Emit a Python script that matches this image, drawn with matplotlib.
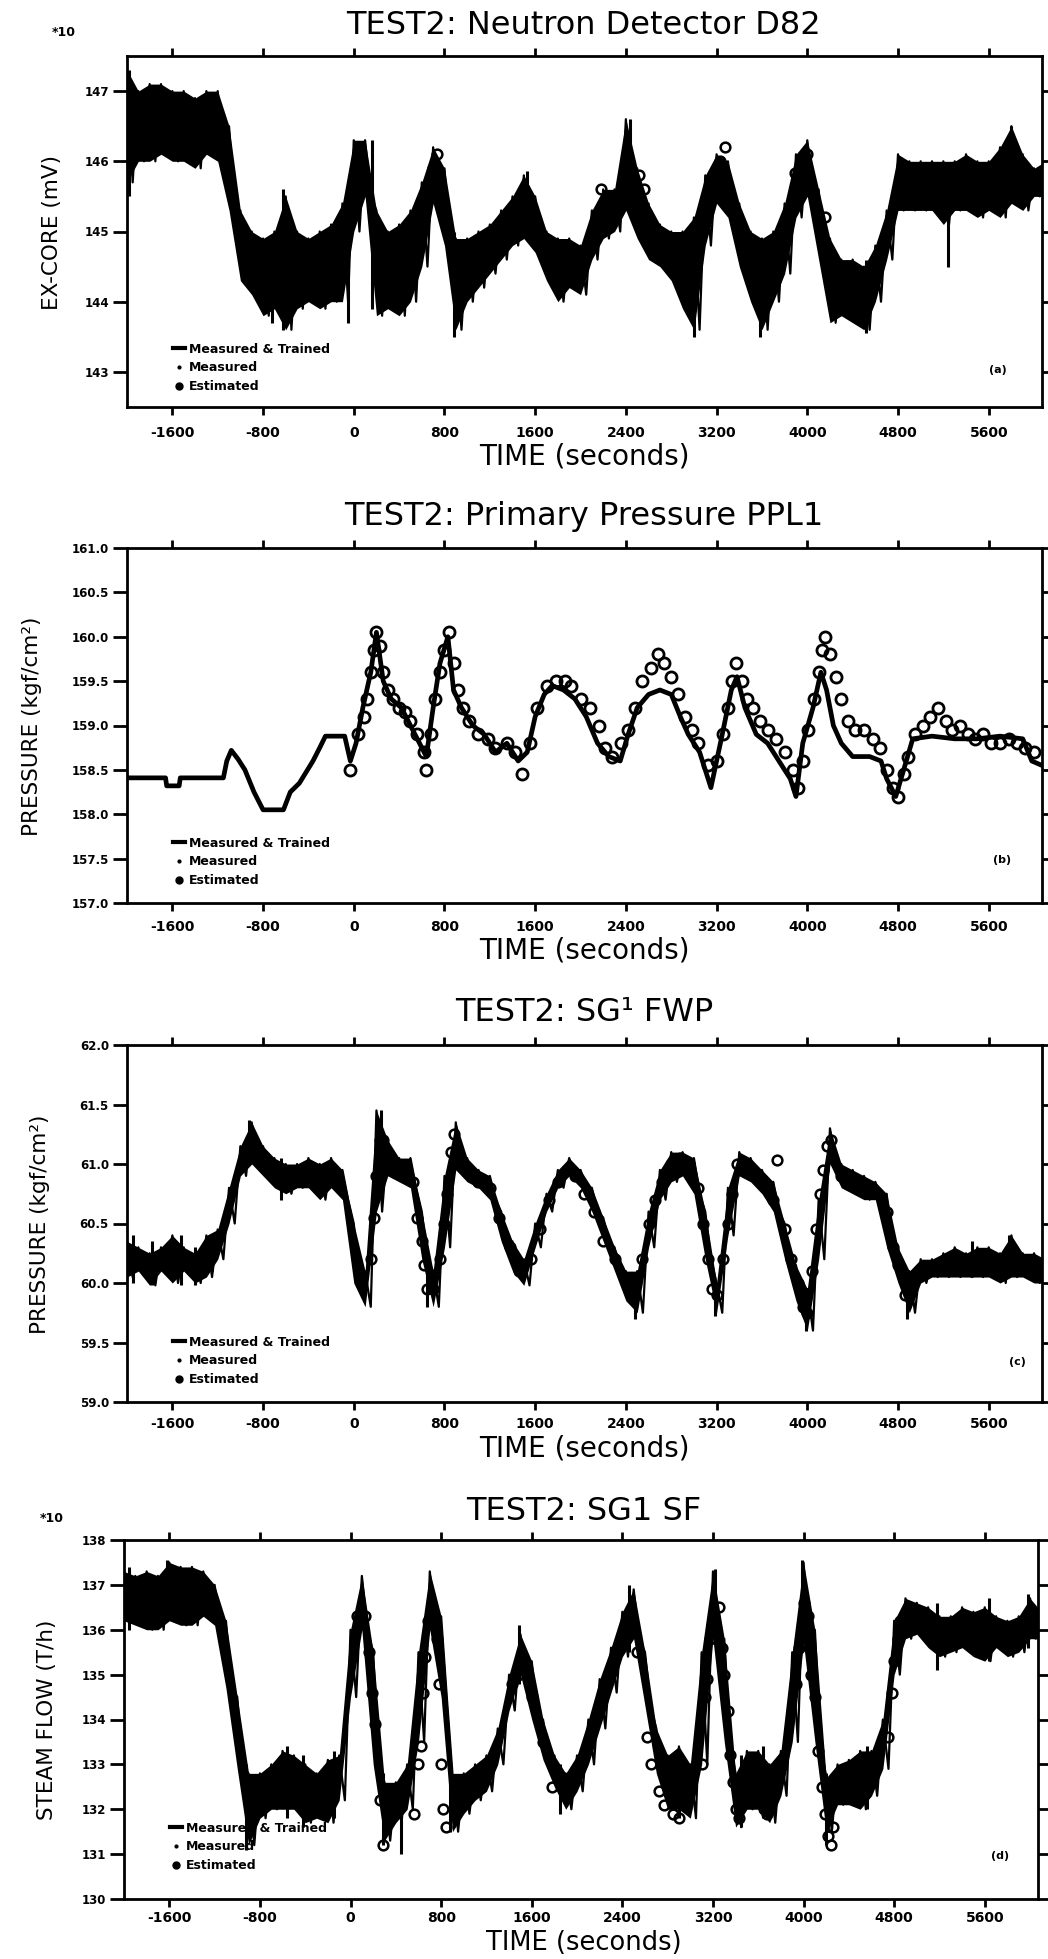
import numpy as np
import matplotlib
matplotlib.use('Agg')
import matplotlib.pyplot as plt
from matplotlib.lines import Line2D

plt.rcParams['font.family'] = ['DejaVu Sans']

# ---------------- data ----------------
XTICKS = [-1600, -800, 0, 800, 1600, 2400, 3200, 4000, 4800, 5600]
XLIM = (-2000, 6070)

# sample grid used for the noisy envelopes (seconds)
T_GRID = np.arange(-2000, 6101, 100)

# (a) neutron detector D82, lower / upper edge of the noisy band
LO_A = [145.7, 146.0, 146.0, 146.1, 146.0, 146.0, 145.9, 146.1, 146.0, 145.3,
        144.3, 144.1, 143.8, 143.9, 143.6, 143.9, 144.0, 143.9, 144.0, 144.0,
        145.0, 145.5, 143.8, 143.9, 143.8, 144.0, 144.5, 145.4, 144.8, 143.6,
        144.0, 144.2, 144.4, 144.6, 144.8, 144.9, 144.7, 144.3, 144.0, 144.2,
        144.1, 144.6, 144.9, 145.0, 145.3, 144.9, 144.6, 144.5, 144.3, 143.9,
        143.6, 144.8, 145.4, 145.2, 144.5, 144.0, 143.6, 144.0, 144.4, 145.2,
        145.5, 144.6, 143.7, 143.8, 143.7, 143.6, 144.0, 144.6, 145.3, 145.3,
        145.3, 145.3, 145.1, 145.3, 145.3, 145.2, 145.3, 145.2, 145.4, 145.3,
        145.5, 145.5]
HI_A = [147.3, 147.0, 147.1, 147.1, 147.0, 147.0, 146.9, 147.0, 147.0, 146.5,
        145.3, 145.0, 144.9, 145.0, 145.5, 145.0, 144.9, 145.0, 145.1, 145.4,
        146.3, 146.3, 145.3, 145.0, 145.1, 145.3, 145.7, 146.2, 145.9, 144.9,
        144.9, 145.0, 145.1, 145.3, 145.5, 145.8, 145.5, 145.0, 144.9, 144.9,
        144.8, 145.3, 145.6, 145.6, 146.6, 145.9, 145.4, 145.1, 145.0, 145.0,
        145.2, 145.8, 146.1, 146.0, 145.4, 145.0, 144.9, 145.0, 145.4, 146.1,
        146.3, 145.6, 144.9, 144.6, 144.6, 144.5, 144.8, 145.3, 146.1, 146.0,
        146.0, 146.0, 146.0, 146.0, 146.1, 146.0, 146.0, 146.2, 146.5, 146.1,
        145.9, 146.0]
SPK_A_T = [-1980, -720, -620, -50, 160, 880, 1530, 2440, 3000, 3580, 4520, 5240, 5800]
SPK_A_LO = [145.5, 143.7, 143.6, 143.7, 143.9, 143.5, 145.0, 145.5, 143.5, 143.5, 143.55, 144.5, 145.6]
SPK_A_HI = [147.3, 144.9, 145.6, 144.8, 146.3, 145.0, 145.86, 146.6, 144.6, 144.6, 144.6, 145.6, 146.5]
EST_A_T = [30, 700, 730, 1270, 1370, 2180, 2250, 2520, 2560, 3230, 3270, 3770, 3890, 4000, 4160, 4830]
EST_A_V = [145.9, 145.9, 146.1, 145.0, 145.2, 145.6, 145.5, 145.8, 145.6, 146.0, 146.2, 144.7,
           145.83, 146.1, 145.2, 145.4]

# (b) primary pressure PPL1, measured trace and estimates
MEAS_B_T = [-2000, -1660, -1650, -1540, -1530, -1150, -1120, -1080, -1020, -960, -880, -800,
            -620, -560, -480, -360, -300, -250, -80, -30, 20, 80, 150, 200, 260, 330, 420,
            500, 580, 640, 700, 760, 830, 880, 950, 1050, 1150, 1250, 1350, 1450, 1530,
            1600, 1680, 1750, 1850, 1950, 2050, 2150, 2250, 2350, 2420, 2500, 2600, 2700,
            2800, 2880, 2950, 3050, 3150, 3250, 3330, 3380, 3450, 3550, 3650, 3750, 3850,
            3900, 3960, 4050, 4120, 4170, 4230, 4300, 4400, 4550, 4650, 4700, 4780, 4850,
            4930, 5100, 5300, 5500, 5700, 5900, 5980, 6070]
MEAS_B_V = [158.41, 158.41, 158.32, 158.32, 158.41, 158.41, 158.6, 158.72, 158.62, 158.5,
            158.25, 158.05, 158.05, 158.25, 158.35, 158.6, 158.75, 158.88, 158.88, 158.6,
            158.8, 159.2, 159.6, 160.05, 159.5, 159.3, 159.2, 159.0, 158.8, 158.65, 159.2,
            159.7, 160.0, 159.4, 159.2, 159.0, 158.9, 158.7, 158.8, 158.6, 158.7, 159.1,
            159.35, 159.45, 159.4, 159.3, 159.1, 158.8, 158.65, 158.6, 158.9, 159.2, 159.35,
            159.4, 159.35, 159.1, 158.9, 158.7, 158.3, 158.9, 159.4, 159.55, 159.2, 158.9,
            158.8, 158.6, 158.4, 158.2, 158.8, 159.2, 159.6, 159.4, 159.0, 158.8, 158.65,
            158.65, 158.6, 158.4, 158.2, 158.5, 158.85, 158.88, 158.85, 158.85, 158.88,
            158.85, 158.6, 158.55]
EST_B_T = [-30, 40, 90, 120, 150, 180, 200, 230, 260, 300, 350, 400, 450, 500, 560, 620, 640,
           680, 720, 760, 800, 840, 880, 920, 960, 1020, 1100, 1180, 1250, 1350, 1420, 1480,
           1550, 1620, 1700, 1780, 1860, 1920, 2000, 2080, 2160, 2220, 2280, 2360, 2420, 2480,
           2540, 2620, 2680, 2740, 2800, 2860, 2920, 2980, 3040, 3120, 3200, 3260, 3300, 3340,
           3370, 3420, 3470, 3520, 3580, 3650, 3720, 3800, 3870, 3920, 3960, 4010, 4060, 4100,
           4130, 4160, 4200, 4250, 4300, 4360, 4420, 4500, 4580, 4640, 4700, 4760, 4800, 4850,
           4890, 4950, 5020, 5080, 5150, 5220, 5280, 5350, 5420, 5480, 5550, 5620, 5700, 5780,
           5850, 5920, 6000]
EST_B_V = [158.5, 158.9, 159.1, 159.3, 159.6, 159.85, 160.05, 159.9, 159.6, 159.4, 159.3, 159.2,
           159.15, 159.05, 158.9, 158.7, 158.5, 158.9, 159.3, 159.6, 159.85, 160.05, 159.7, 159.4,
           159.2, 159.05, 158.9, 158.85, 158.75, 158.8, 158.7, 158.45, 158.8, 159.2, 159.45,
           159.5, 159.5, 159.45, 159.3, 159.2, 159.0, 158.75, 158.65, 158.8, 158.95, 159.2, 159.5,
           159.65, 159.8, 159.7, 159.55, 159.35, 159.1, 158.95, 158.8, 158.55, 158.6, 158.9,
           159.2, 159.5, 159.7, 159.5, 159.3, 159.2, 159.05, 158.95, 158.85, 158.7, 158.5, 158.3,
           158.6, 158.95, 159.3, 159.6, 159.85, 160.0, 159.8, 159.55, 159.3, 159.05, 158.95,
           158.95, 158.85, 158.75, 158.5, 158.3, 158.2, 158.45, 158.65, 158.9, 159.0, 159.1,
           159.2, 159.05, 158.95, 159.0, 158.9, 158.85, 158.9, 158.8, 158.8, 158.85, 158.8,
           158.75, 158.7]

# (c) SG1 feedwater pressure
LO_C = [60.05, 60.1, 59.98, 60.1, 60.0, 60.1, 60.0, 60.05, 60.2, 60.5,
        60.9, 61.0, 60.9, 60.8, 60.75, 60.8, 60.8, 60.7, 60.8, 60.7,
        60.0, 59.8, 60.6, 60.9, 60.85, 60.8, 60.2, 59.8, 60.3, 60.95,
        60.85, 60.8, 60.7, 60.35, 60.1, 59.98, 60.3, 60.6, 60.8, 60.9,
        60.8, 60.6, 60.35, 60.1, 59.85, 59.75, 60.3, 60.7, 60.85, 60.9,
        60.75, 60.2, 59.75, 60.4, 60.9, 60.85, 60.75, 60.6, 60.2, 59.85,
        59.6, 60.2, 61.0, 60.8, 60.75, 60.7, 60.7, 60.3, 60.0, 59.75,
        60.0, 60.05, 60.05, 60.05, 60.05, 60.05, 60.05, 60.0, 60.05, 60.05,
        60.0, 60.0]
HI_C = [60.35, 60.3, 60.25, 60.3, 60.4, 60.3, 60.25, 60.4, 60.45, 60.8,
        61.15, 61.35, 61.15, 61.05, 61.0, 61.0, 61.05, 61.0, 61.05, 60.95,
        60.5, 60.1, 61.45, 61.2, 61.05, 61.05, 60.6, 60.1, 60.9, 61.35,
        61.05, 60.95, 60.9, 60.6, 60.35, 60.2, 60.5, 60.75, 60.95, 61.05,
        60.95, 60.8, 60.55, 60.3, 60.1, 60.1, 60.6, 60.95, 61.1, 61.1,
        61.05, 60.6, 60.0, 60.8, 61.1, 61.05, 60.95, 60.85, 60.5, 60.15,
        59.95, 60.7, 61.3, 61.0, 60.95, 60.9, 60.85, 60.75, 60.3, 60.1,
        60.2, 60.2, 60.25, 60.3, 60.25, 60.3, 60.3, 60.25, 60.4, 60.25,
        60.25, 60.2]
SPK_C_T = [-1950, -1780, -1520, -1400, -1250, -920, -640, 240, 650, 2480, 3190, 3990, 4880, 5450, 5780]
SPK_C_LO = [60.0, 59.98, 59.98, 59.98, 60.1, 61.0, 60.7, 61.0, 59.8, 59.7, 59.72, 59.6, 59.7, 60.05, 60.05]
SPK_C_HI = [60.4, 60.35, 60.4, 60.3, 60.4, 61.37, 61.05, 61.45, 60.1, 60.0, 60.0, 59.9, 60.0, 60.35, 60.4]
EST_C_T = [150, 180, 200, 230, 260, 300, 520, 560, 600, 620, 650, 700, 760, 800, 820, 860, 880,
           920, 1000, 1100, 1200, 1280, 1380, 1460, 1560, 1640, 1720, 1800, 1880, 1950, 2030,
           2120, 2200, 2300, 2380, 2460, 2540, 2600, 2660, 2720, 2800, 2880, 2960, 3040, 3080,
           3120, 3160, 3200, 3260, 3300, 3340, 3380, 3460, 3560, 3730, 3700, 3800, 3860, 3920,
           3960, 4000, 4040, 4080, 4110, 4140, 4170, 4210, 4300, 4700, 4760, 4800, 4860]
EST_C_V = [60.2, 60.55, 60.9, 61.2, 61.2, 61.0, 60.85, 60.55, 60.35, 60.15, 59.95, 59.95, 60.2,
           60.5, 60.75, 61.1, 61.25, 61.1, 60.95, 60.85, 60.8, 60.55, 60.3, 60.1, 60.2, 60.45,
           60.7, 60.85, 60.95, 60.9, 60.75, 60.6, 60.35, 60.2, 60.05, 59.95, 60.2, 60.5, 60.7,
           60.85, 61.0, 61.05, 61.0, 60.8, 60.5, 60.2, 59.95, 59.9, 60.2, 60.5, 60.75, 61.0,
           60.95, 60.9, 61.03, 60.7, 60.45, 60.2, 60.0, 59.8, 59.75, 60.1, 60.45, 60.75, 60.95,
           61.15, 61.2, 60.9, 60.6, 60.3, 60.15, 59.9]

# (d) SG1 steam flow
LO_D = [136.2, 136.1, 136.0, 136.0, 136.2, 136.1, 136.1, 136.3, 136.1, 134.7,
        132.9, 131.2, 131.8, 132.0, 132.0, 132.0, 131.7, 131.8, 131.7, 132.2,
        134.5, 136.0, 133.0, 131.3, 131.7, 132.0, 133.5, 136.0, 134.5, 131.5,
        131.9, 132.2, 132.4, 133.0, 134.2, 135.0, 134.0, 133.1, 132.5, 132.0,
        132.4, 133.0, 133.8, 134.6, 135.4, 135.8, 134.3, 132.8, 132.0, 132.0,
        131.8, 133.0, 135.8, 133.5, 131.6, 132.0, 132.0, 131.7, 132.3, 133.5,
        135.7, 133.5, 131.5, 132.1, 132.1, 132.0, 132.3, 132.9, 135.0, 135.8,
        135.9, 135.6, 135.4, 135.5, 135.6, 135.4, 135.3, 135.6, 135.4, 135.5,
        135.8, 135.8]
HI_D = [137.3, 137.2, 137.3, 137.2, 137.5, 137.4, 137.4, 137.3, 137.0, 136.2,
        134.5, 132.8, 132.8, 133.0, 133.3, 133.2, 133.0, 132.8, 133.1, 133.2,
        136.0, 137.2, 135.5, 132.6, 132.6, 133.0, 135.5, 137.3, 136.3, 132.8,
        132.8, 133.0, 133.2, 133.8, 135.0, 135.9, 135.3, 134.0, 133.2, 132.8,
        133.2, 134.0, 134.9, 135.6, 136.4, 136.9, 135.5, 133.8, 133.2, 133.4,
        133.0, 135.5, 137.3, 135.8, 132.8, 133.3, 133.3, 133.0, 133.3, 135.5,
        137.5, 136.0, 132.7, 133.0, 133.1, 133.3, 133.3, 134.0, 136.2, 136.7,
        136.6, 136.5, 136.3, 136.3, 136.5, 136.4, 136.5, 136.3, 136.2, 136.3,
        136.7, 136.4]
SPK_D_T = [-1960, -1620, -920, -560, -420, -150, 290, 450, 880, 1490, 1850, 2460, 2900, 3220,
           3450, 3640, 3990, 4200, 4560, 5180, 5640, 5980]
SPK_D_LO = [136.0, 136.2, 131.1, 131.8, 131.6, 131.8, 131.2, 131.0, 131.5, 134.8, 131.9, 135.5,
            131.8, 135.8, 131.6, 131.8, 135.5, 131.2, 132.0, 135.1, 135.3, 135.6]
SPK_D_HI = [137.4, 137.55, 133.0, 133.4, 133.2, 133.3, 132.8, 132.6, 132.8, 136.1, 133.0, 137.0,
            133.3, 137.35, 133.2, 133.4, 137.55, 132.8, 133.4, 136.6, 136.7, 136.8]
EST_D_T = [60, 130, 160, 190, 220, 260, 290, 560, 600, 620, 640, 660, 680, 720, 760, 780, 800,
           820, 840, 1430, 1480, 1600, 1700, 1780, 2470, 2530, 2620, 2650, 2720, 2770, 2850,
           2900, 3100, 3130, 3150, 3170, 3190, 3250, 3280, 3300, 3330, 3350, 3380, 3400, 3430,
           3650, 3680, 3930, 3960, 4000, 4040, 4070, 4100, 4130, 4160, 4190, 4220, 4240, 4260,
           4750, 4780, 4800, 4830, 4850]
EST_D_V = [136.3, 136.3, 135.5, 134.6, 133.9, 132.2, 131.2, 131.9, 133.0, 133.4, 134.6, 135.4,
           136.2, 136.4, 135.8, 134.8, 133.0, 132.0, 131.6, 134.8, 135.0, 134.5, 133.5, 132.5,
           136.0, 135.5, 133.6, 133.0, 132.4, 132.1, 131.9, 131.8, 133.0, 134.5, 134.9, 135.8,
           136.1, 136.5, 135.6, 135.0, 134.2, 133.2, 132.6, 132.0, 131.8, 132.0, 131.9, 134.8,
           135.6, 136.6, 136.3, 135.0, 134.5, 133.3, 132.5, 131.9, 131.4, 131.2, 131.6, 133.6,
           134.6, 135.3, 135.8, 136.2]

# ---------------- layout helpers ----------------
W, H = 1048, 1959
fig = plt.figure(figsize=(W / 100, H / 100), dpi=100)


def fx(px):
    return px / W


def fy(px):
    return 1 - px / H


def make_axes(left, top, right, bottom):
    return fig.add_axes([fx(left), fy(bottom), (right - left) / W, (bottom - top) / H])


def style_axes(ax, yticks, ylim, fmt, xpad):
    ax.set_xlim(XLIM)
    ax.set_xticks(XTICKS)
    ax.set_xticklabels([str(v) for v in XTICKS])
    ax.set_ylim(ylim)
    ax.set_yticks(yticks)
    ax.set_yticklabels([fmt % v for v in yticks])
    ax.tick_params(axis='x', direction='out', top=True, length=6, width=2, pad=xpad, labelsize=10)
    ax.tick_params(axis='y', direction='out', right=True, length=10, width=2, pad=3, labelsize=8.5)
    for lab in ax.get_xticklabels() + ax.get_yticklabels():
        lab.set_fontweight('bold')
    for s in ax.spines.values():
        s.set_linewidth(2)


def noisy_band(ax, lo, hi, spk_t, spk_lo, spk_hi):
    t = T_GRID
    ax.fill_between(t, lo, hi, color='black', lw=0)
    # zig-zag between upper and lower edge to mimic the dense noise
    xs = np.column_stack([t, t + 50]).ravel()
    ys = np.column_stack([hi, lo]).ravel()
    ax.plot(xs, ys, color='black', lw=1.6)
    ax.vlines(spk_t, spk_lo, spk_hi, color='black', lw=2.2)


def add_legend(ax, anchor):
    handles = [Line2D([], [], color='black', lw=3),
               Line2D([], [], color='black', marker='.', ls='none', ms=4),
               Line2D([], [], color='black', marker='o', ls='none', ms=5)]
    ax.legend(handles, ['Measured & Trained', 'Measured', 'Estimated'],
              loc='lower left', bbox_to_anchor=anchor, frameon=False,
              prop=dict(weight='bold', size=9), handlelength=1.0,
              handletextpad=0.3, labelspacing=0.45, borderaxespad=0, borderpad=0)


def decorate(title, title_y, xlabel_y, ylabel, ylabel_x, ylabel_y, xl_size=20):
    fig.text(fx(584), fy(title_y), title, ha='center', va='center', fontsize=23)
    fig.text(fx(584), fy(xlabel_y), 'TIME (seconds)', ha='center', va='center', fontsize=xl_size)
    fig.text(fx(ylabel_x), fy(ylabel_y), ylabel, ha='center', va='center',
             rotation=90, fontsize=15.5)


# ---------------- (a) ----------------
ax = make_axes(127, 56, 1042, 407)
noisy_band(ax, LO_A, HI_A, SPK_A_T, SPK_A_LO, SPK_A_HI)
ax.plot(EST_A_T, EST_A_V, 'o', mfc='none', mec='black', ms=7, mew=1.8)
style_axes(ax, [143, 144, 145, 146, 147], (142.5, 147.5), '%d', 8)
add_legend(ax, (0.05, 0.04))
ax.text(0.942, 0.105, '(a)', transform=ax.transAxes, fontsize=8, fontweight='bold', va='center')
decorate('TEST2: Neutron Detector D82', 25, 456, 'EX-CORE (mV)', 52, 232)
fig.text(fx(52), fy(33), '*10', fontsize=9, fontweight='bold', va='center')

# ---------------- (b) ----------------
ax = make_axes(127, 548, 1042, 903)
ax.plot(MEAS_B_T, MEAS_B_V, color='black', lw=3.4)
ax.plot(EST_B_T, EST_B_V, 'o', mfc='none', mec='black', ms=8, mew=2)
style_axes(ax, [157.0, 157.5, 158.0, 158.5, 159.0, 159.5, 160.0, 160.5, 161.0], (157, 161), '%.1f', 6)
add_legend(ax, (0.05, 0.045))
ax.text(0.946, 0.121, '(b)', transform=ax.transAxes, fontsize=8, fontweight='bold', va='center')
decorate('TEST2: Primary Pressure PPL1', 517, 951, 'PRESSURE (kgf/cm²)', 32, 726)

# ---------------- (c) ----------------
ax = make_axes(127, 1045, 1042, 1402)
noisy_band(ax, LO_C, HI_C, SPK_C_T, SPK_C_LO, SPK_C_HI)
ax.plot(EST_C_T, EST_C_V, 'o', mfc='none', mec='black', ms=7, mew=1.8)
style_axes(ax, [59.0, 59.5, 60.0, 60.5, 61.0, 61.5, 62.0], (59, 62), '%.1f', 4.5)
add_legend(ax, (0.05, 0.045))
ax.text(0.964, 0.112, '(c)', transform=ax.transAxes, fontsize=8, fontweight='bold', va='center')
decorate('TEST2: SG¹ FWP', 1013, 1448, 'PRESSURE (kgf/cm²)', 40, 1224)

# ---------------- (d) ----------------
ax = make_axes(124, 1540, 1038, 1899)
noisy_band(ax, LO_D, HI_D, SPK_D_T, SPK_D_LO, SPK_D_HI)
ax.plot(EST_D_T, EST_D_V, 'o', mfc='none', mec='black', ms=7, mew=1.8)
style_axes(ax, [130, 131, 132, 133, 134, 135, 136, 137, 138], (130, 138), '%d', 3)
add_legend(ax, (0.05, 0.075))
ax.text(0.949, 0.12, '(d)', transform=ax.transAxes, fontsize=8, fontweight='bold', va='center')
decorate('TEST2: SG1 SF', 1512, 1943, 'STEAM FLOW (T/h)', 47, 1720, xl_size=18.5)
fig.text(fx(40), fy(1518), '*10', fontsize=9, fontweight='bold', va='center')

fig.savefig('out.png', dpi=100)
